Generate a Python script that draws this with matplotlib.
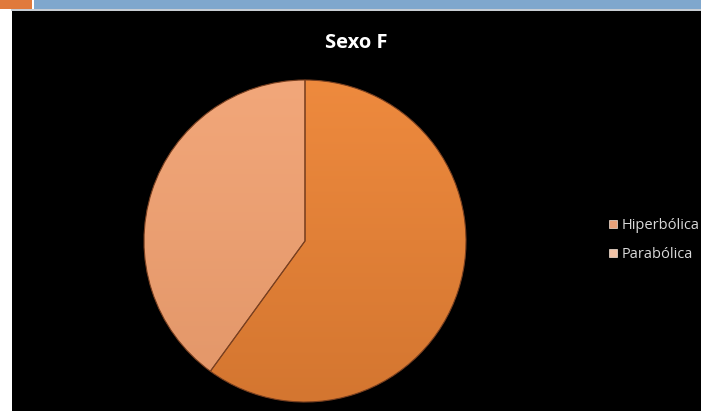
import numpy as np
import matplotlib
matplotlib.use("Agg")
import matplotlib.pyplot as plt
from matplotlib.patches import Rectangle
from matplotlib.colors import LinearSegmentedColormap
from matplotlib.lines import Line2D

title = "Sexo F"
labels = ["Hiperbólica", "Parabólica"]
values = [60, 40]
colors_top = ["#EE8A3E", "#F2A77A"]
colors_bot = ["#D47630", "#E29668"]

W, H = 701, 411
fig = plt.figure(figsize=(W / 100, H / 100), dpi=100, facecolor="white")

def px_rect(x0, y0, x1, y1, color, z=-10):
    fig.patches.append(Rectangle((x0 / W, 1 - y1 / H), (x1 - x0) / W, (y1 - y0) / H,
                                 transform=fig.transFigure, facecolor=color,
                                 edgecolor="none", zorder=z))

px_rect(0, 0, 32, 9, "#E07A3C")
px_rect(34, 0, 701, 9, "#7FA7CD")
px_rect(11, 9, 701, 11, "#C8CDD3")
px_rect(12, 11, 701, 411, "#000000")

cx, cy, r = 305, 241, 161
m = 1.05
ax = fig.add_axes([(cx - r * m) / W, (H - cy - r * m) / H, 2 * r * m / W, 2 * r * m / H])
ax.set_zorder(1)
ax.set_facecolor("none")
wedges, _ = ax.pie(values, startangle=90, counterclock=False,
                   colors=colors_top,
                   wedgeprops=dict(edgecolor="#7A4020", linewidth=0.8))
ax.set_aspect("equal")
ax.axis("off")

grad = np.linspace(0, 1, 256).reshape(-1, 1)
for w, ct, cb in zip(wedges, colors_top, colors_bot):
    cmap = LinearSegmentedColormap.from_list("g", [ct, cb])
    im = ax.imshow(grad, extent=(-1, 1, -1, 1), cmap=cmap, aspect="auto",
                   origin="upper", zorder=w.get_zorder() + 0.1)
    im.set_clip_path(w)
    w.set_zorder(w.get_zorder() + 0.2)
    w.set_facecolor("none")
ax.set_xlim(-m, m)
ax.set_ylim(-m, m)

fig.text(356 / W, 1 - 43 / H, title, color="white", fontsize=14.5, fontweight="bold",
         ha="center", va="center", family="Open Sans", zorder=5)

handles = [Line2D([], [], marker="s", linestyle="none", markersize=5.5,
                  markerfacecolor=c, markeredgecolor="#F5E6DA", markeredgewidth=0.5)
           for c in ["#E8A27A", "#F2C2A6"]]
leg = fig.legend(handles, labels, loc="center left",
                 bbox_to_anchor=(603 / W, 1 - 240 / H), frameon=False,
                 labelcolor="#D9D9D9", handlelength=0.6,
                 handletextpad=0.3, labelspacing=1.0, borderaxespad=0,
                 prop=dict(family="Open Sans", size=10.5))
leg.set_zorder(5)

fig.savefig("out.png", dpi=100, facecolor=fig.get_facecolor())
